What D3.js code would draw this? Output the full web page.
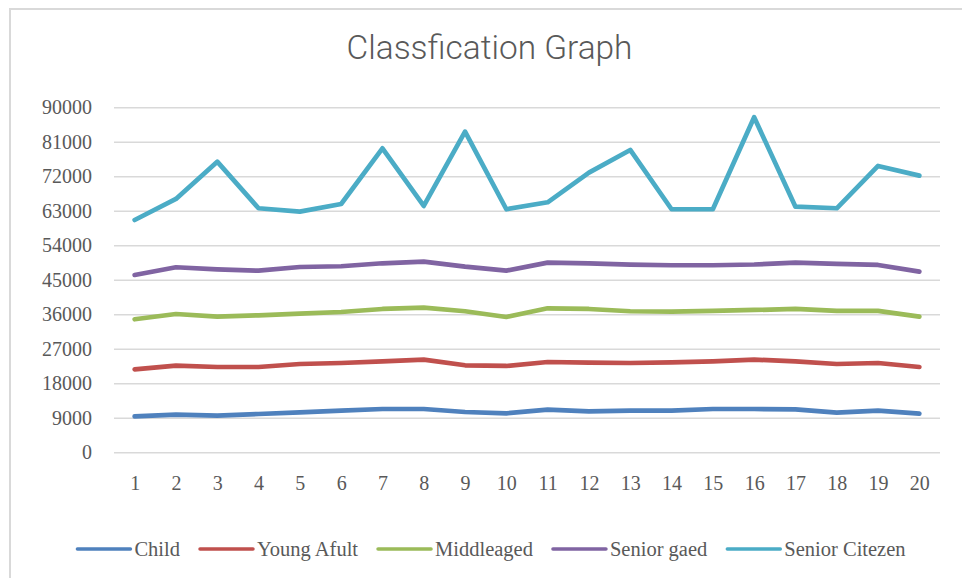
<!DOCTYPE html>
<html>
<head>
<meta charset="utf-8">
<script src="https://cdn.jsdelivr.net/npm/d3@7"></script>
<style>
  html, body { margin: 0; padding: 0; background: #fff; }
  svg { display: block; }
</style>
</head>
<body>
<svg id="chart" width="962" height="578"></svg>
<script>
const categories = [1, 2, 3, 4, 5, 6, 7, 8, 9, 10, 11, 12, 13, 14, 15, 16, 17, 18, 19, 20];
const yTicks = [0, 9000, 18000, 27000, 36000, 45000, 54000, 63000, 72000, 81000, 90000];
const seriesNames = ["Child", "Young Afult", "Middleaged", "Senior gaed", "Senior Citezen"];
const seriesColors = ["#4F81BD", "#C0504D", "#9BBB59", "#8064A2", "#4BACC6"];
const child = [9390, 9820, 9550, 9990, 10440, 10870, 11300, 11300, 10510, 10170, 11130, 10700, 10870, 10870, 11300, 11300, 11220, 10340, 10870, 10080];
const youngAfult = [21650, 22600, 22250, 22250, 23040, 23300, 23740, 24170, 22700, 22520, 23560, 23390, 23300, 23470, 23740, 24170, 23740, 23040, 23300, 22250];
const middleaged = [34700, 36080, 35380, 35740, 36160, 36600, 37390, 37730, 36790, 35300, 37570, 37390, 36790, 36700, 36880, 37130, 37390, 36880, 36880, 35380];
const seniorGaed = [46260, 48270, 47740, 47380, 48340, 48530, 49310, 49730, 48420, 47380, 49470, 49310, 48950, 48790, 48790, 48990, 49470, 49130, 48870, 47120];
const seniorCitezen = [60600, 66090, 75820, 63660, 62770, 64780, 79310, 64260, 83650, 63400, 65220, 72950, 78870, 63400, 63400, 87400, 64080, 63660, 74700, 72170];
const titleText = "Classfication Graph";

const seriesValues = [child, youngAfult, middleaged, seniorGaed, seniorCitezen];

const svg = d3.select("#chart");
const textColor = "#595959";
const serif = "'Liberation Serif', 'Times New Roman', serif";

// frame
svg.append("rect").attr("x", 10).attr("y", 9).attr("width", 1000).attr("height", 620)
  .attr("fill", "#fff").attr("stroke", "#d9d9d9").attr("stroke-width", 2);

// title
svg.append("text").attr("x", 489.5).attr("y", 59).attr("text-anchor", "middle")
  .attr("font-family", "Roboto, 'Open Sans', sans-serif").attr("font-weight", 300)
  .attr("font-size", 34).attr("fill", textColor)
  .attr("textLength", 286).attr("lengthAdjust", "spacingAndGlyphs")
  .text(titleText);

const plotLeft = 114, plotRight = 940, plotTop = 107.3, plotBottom = 452.3;

const x = d3.scalePoint().domain(categories).range([plotLeft, plotRight]).padding(0.5);
const y = d3.scaleLinear().domain([0, 90000]).range([plotBottom, plotTop]);

// gridlines
const yAxisGrid = d3.axisLeft(y).tickValues(yTicks).tickSize(-(plotRight - plotLeft)).tickFormat("");
const grid = svg.append("g").attr("transform", `translate(${plotLeft},0)`).call(yAxisGrid);
grid.select(".domain").remove();
grid.selectAll("line").attr("stroke", "#d9d9d9").attr("stroke-width", 1.5);

// y labels
const yAxis = d3.axisLeft(y).tickValues(yTicks).tickSize(0).tickPadding(0).tickFormat(d => String(d));
const ya = svg.append("g").attr("transform", `translate(92,0)`).call(yAxis);
ya.select(".domain").remove();
ya.selectAll("text").attr("font-family", serif).attr("font-size", 20).attr("fill", textColor).attr("dy", "0.32em");

// x labels
const xAxis = d3.axisBottom(x).tickSize(0).tickPadding(0);
const xa = svg.append("g").attr("transform", `translate(0,476)`).call(xAxis);
xa.select(".domain").remove();
xa.selectAll("text").attr("font-family", serif).attr("font-size", 20).attr("fill", textColor).attr("dy", "0.71em");

// lines
const line = d3.line().x((d, i) => x(categories[i])).y(d => y(d)).curve(d3.curveLinear);
seriesValues.forEach((vals, k) => {
  svg.append("path").datum(vals).attr("d", line).attr("fill", "none")
    .attr("stroke", seriesColors[k]).attr("stroke-width", 4.7)
    .attr("stroke-linejoin", "round").attr("stroke-linecap", "round");
});

// legend
const legend = svg.append("g");
const lineLen = 53, gapText = 4, gapItem = 20;
let cx = 0;
seriesNames.forEach((name, k) => {
  const g = legend.append("g");
  g.append("line").attr("x1", 0).attr("x2", lineLen).attr("y1", 0).attr("y2", 0)
    .attr("stroke", seriesColors[k]).attr("stroke-width", 3.5).attr("stroke-linecap", "round");
  const t = g.append("text").attr("x", lineLen + gapText).attr("y", 0).attr("dy", "0.32em")
    .attr("font-family", serif).attr("font-size", 20.5).attr("fill", textColor).text(name);
  const w = t.node().getComputedTextLength();
  g.attr("transform", `translate(${cx},549)`);
  cx += lineLen + gapText + w + gapItem;
});
const totalW = cx - gapItem;
legend.attr("transform", `translate(${491.5 - totalW / 2},0)`);
</script>
</body>
</html>
